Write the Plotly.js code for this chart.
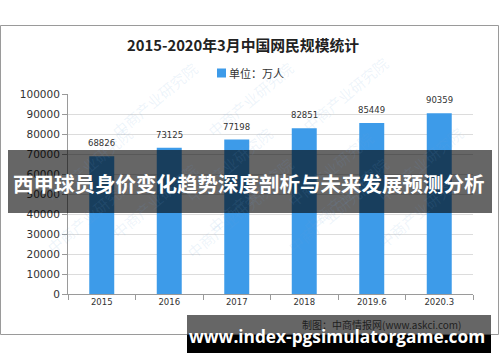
<!DOCTYPE html>
<html>
<head>
<meta charset="utf-8">
<script src="https://cdn.plot.ly/plotly-3.0.1.min.js"></script>
<style>html,body{margin:0;padding:0;background:#fff;}#chart{width:500px;height:362px;}</style>
</head>
<body>
<div id="chart"></div>
<script>
const categories = ["2015", "2016", "2017", "2018", "2019.6", "2020.3"];
const users = [68826, 73125, 77198, 82851, 85449, 90359];
const yTicks = [0, 10000, 20000, 30000, 40000, 50000, 60000, 70000, 80000, 90000, 100000];
const chartTitle = "2015-2020年3月中国网民规模统计";
const seriesName = "单位：万人";
const sourceText = "制图：中商情报网(www.askci.com)";
const bannerText = "西甲球员身价变化趋势深度剖析与未来发展预测分析";
const urlText = "www.index-pgsimulatorgame.com";
const watermark = "中商产业研究院";

const W = 500, H = 362;
const L = 68, R = 27, T = 94, B = 68;
const pw = W - L - R, ph = H - T - B;
const px = x => (x - L) / pw;
const py = y => (H - B - y) / ph;
const barColor = '#3d9be9';

const shapes = [
  {type:'rect', xref:'paper', yref:'paper', x0:px(0.5), x1:px(498.5), y0:py(334.5), y1:py(25.5),
   line:{color:'#9a9a9a', width:1}, fillcolor:'rgba(0,0,0,0)', layer:'below'},
  // legend swatch
  {type:'rect', xref:'paper', yref:'paper', x0:px(217), x1:px(226), y0:py(77.5), y1:py(68.5),
   line:{width:0}, fillcolor:barColor, layer:'above'},
  {type:'rect', xref:'paper', yref:'paper', x0:px(8), x1:px(492), y0:py(213), y1:py(150),
   line:{width:0}, fillcolor:'rgba(0,0,0,0.6)', layer:'above'},
  {type:'rect', xref:'paper', yref:'paper', x0:px(187), x1:px(491), y0:py(335), y1:py(315),
   line:{width:0}, fillcolor:'rgba(0,0,0,0.6)', layer:'above'},
  {type:'rect', xref:'paper', yref:'paper', x0:px(187), x1:px(491), y0:py(353), y1:py(335),
   line:{width:0}, fillcolor:'#000000', layer:'above'}
];

const annotations = [];
const wmPos = [[105,55],[250,55],[395,50],[40,120],[180,120],[330,125],[470,120],
               [105,200],[250,195],[395,195],[40,260],[180,265],[330,260],[470,255]];
wmPos.forEach(p => annotations.push({
  xref:'paper', yref:'paper', x:px(p[0]), y:py(p[1]), text:watermark, showarrow:false,
  textangle:-40, font:{family:'Noto Sans CJK SC', size:15, color:'rgba(110,165,220,0.12)'}
}));
annotations.push({xref:'paper', yref:'paper', x:px(243), y:py(45), text:'<b>'+chartTitle+'</b>',
  showarrow:false, xanchor:'center', yanchor:'middle',
  font:{family:'Noto Sans CJK SC', size:14.8, color:'#222'}});
// legend text
annotations.push({xref:'paper', yref:'paper', x:px(227), y:py(73), text:seriesName,
  showarrow:false, xanchor:'left', yanchor:'middle',
  font:{family:'Noto Sans CJK SC', size:11, color:'#333'}});
categories.forEach((c,i) => annotations.push({x:i, y:users[i], xref:'x', yref:'y',
  text:String(users[i]), showarrow:false, yanchor:'bottom', yshift:6,
  font:{family:'DejaVu Sans', size:8.5, color:'#333'}}));
annotations.push({xref:'paper', yref:'paper', x:px(463), y:py(324), text:sourceText,
  showarrow:false, xanchor:'right', yanchor:'middle',
  font:{family:'Noto Sans CJK SC', size:10, color:'#1e1e1e'}});
annotations.push({xref:'paper', yref:'paper', x:px(249), y:py(183), text:'<b>'+bannerText+'</b>',
  showarrow:false, xanchor:'center', yanchor:'middle',
  font:{family:'Noto Sans CJK SC', size:20.5, color:'#ffffff'}});
annotations.push({xref:'paper', yref:'paper', x:px(337), y:py(336), text:'<b>'+urlText+'</b>',
  showarrow:false, xanchor:'center', yanchor:'middle',
  font:{family:'Open Sans', size:17.3, color:'#ffffff'}});

const trace = {
  type:'bar', x:categories, y:users, name:seriesName,
  marker:{color:barColor}, showlegend:false, hoverinfo:'skip'
};

const layout = {
  width:W, height:H, margin:{l:L, r:R, t:T, b:B, pad:0},
  paper_bgcolor:'#ffffff', plot_bgcolor:'#ffffff',
  bargap:0.63,
  xaxis:{type:'category', range:[-0.5, categories.length-0.5], autorange:false,
    showgrid:false, showline:true, linecolor:'#9a9a9a', linewidth:1,
    ticks:'outside', tickson:'boundaries', ticklen:5, tickcolor:'#9a9a9a',
    tickfont:{family:'DejaVu Sans', size:8.5, color:'#333'}, fixedrange:true},
  yaxis:{range:[0,100000], autorange:false, tickvals:yTicks, ticktext:yTicks.map(String),
    showgrid:true, gridcolor:'#dcdcdc', gridwidth:1, zeroline:false,
    showline:true, linecolor:'#9a9a9a', linewidth:1,
    ticks:'outside', ticklen:5, tickcolor:'#9a9a9a',
    tickfont:{family:'DejaVu Sans', size:10.5, color:'#333'}, fixedrange:true},
  showlegend:false,
  shapes:shapes, annotations:annotations
};

Plotly.newPlot('chart', [trace], layout, {staticPlot:true, displayModeBar:false});
</script>
</body>
</html>
